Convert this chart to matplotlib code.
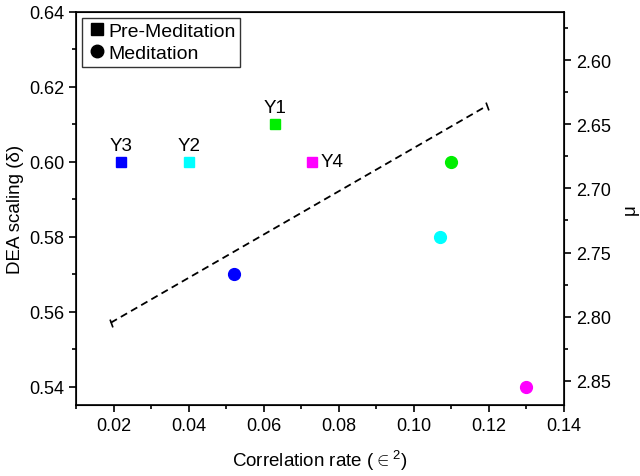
import matplotlib
matplotlib.use("Agg")
import matplotlib.pyplot as plt
from matplotlib.ticker import MultipleLocator, AutoMinorLocator
from matplotlib.lines import Line2D

plt.rcParams['font.family'] = ['Liberation Sans', 'DejaVu Sans']
plt.rcParams['mathtext.fontset'] = 'custom'
plt.rcParams['mathtext.rm'] = 'Liberation Sans'

# pre-meditation (squares)
pre_names = ["Y1", "Y2", "Y3", "Y4"]
pre_x = [0.063, 0.040, 0.022, 0.073]
pre_y = [0.610, 0.600, 0.600, 0.600]

# meditation (circles)
med_x = [0.110, 0.107, 0.052, 0.130]
med_y = [0.600, 0.580, 0.570, 0.540]

colors = ["#00ee00", "#00ffff", "#0000ff", "#ff00ff"]

# dashed trend line
fit_x = [0.0192, 0.1194]
fit_y = [0.5571, 0.6149]

fig = plt.figure(figsize=(6.4, 4.77), dpi=100)
ax = fig.add_axes([0.119, 0.149, 0.762, 0.824])

ax.plot(fit_x, fit_y, ls="--", color="black", lw=1.3, dashes=(4, 2.5))
ax.plot(fit_x[0], fit_y[0], marker=(2, 0, 20), color="black", ms=6, mew=1.2)
ax.plot(fit_x[1], fit_y[1], marker=(2, 0, 20), color="black", ms=6, mew=1.2)

for i in range(4):
    ax.plot(pre_x[i], pre_y[i], marker="s", ls="none", color=colors[i], ms=7.5)
    ax.plot(med_x[i], med_y[i], marker="o", ls="none", color=colors[i], ms=8.5)

for name, x, y in zip(pre_names, pre_x, pre_y):
    if name == "Y4":
        ax.annotate(name, (x, y), xytext=(6, 0), textcoords="offset points",
                    ha="left", va="center", fontsize=13.5)
    else:
        ax.annotate(name, (x, y), xytext=(0, 6), textcoords="offset points",
                    ha="center", va="bottom", fontsize=13.5)

ax.set_xlim(0.01, 0.14)
ax.set_ylim(0.5352, 0.64)
ax.xaxis.set_major_locator(MultipleLocator(0.02))
ax.xaxis.set_minor_locator(AutoMinorLocator(2))
ax.yaxis.set_major_locator(MultipleLocator(0.02))
ax.yaxis.set_minor_locator(AutoMinorLocator(2))
ax.xaxis.set_major_formatter(plt.FormatStrFormatter("%.2f"))
ax.yaxis.set_major_formatter(plt.FormatStrFormatter("%.2f"))
ax.tick_params(which="both", direction="out", labelsize=13, width=1.2)
ax.tick_params(which="major", length=5)
ax.tick_params(which="minor", length=3)
ax.tick_params(top=False, right=False)
for s in ax.spines.values():
    s.set_linewidth(1.2)

ax.set_xlabel(r"Correlation rate ($\in^2$)", fontsize=13.5, labelpad=10)
ax.set_ylabel("DEA scaling (\u03b4)", fontsize=13.5, labelpad=4)

ax2 = ax.twinx()
ax2.set_ylim(2.5625, 2.8687)
ax2.invert_yaxis()
ax2.yaxis.set_major_locator(MultipleLocator(0.05))
ax2.yaxis.set_minor_locator(AutoMinorLocator(2))
ax2.yaxis.set_major_formatter(plt.FormatStrFormatter("%.2f"))
ax2.tick_params(which="both", direction="out", labelsize=13, width=1.2)
ax2.tick_params(which="major", length=5)
ax2.tick_params(which="minor", length=3)
ax2.set_ylabel("\u03bc", fontsize=13.5, labelpad=8)

handles = [Line2D([], [], marker="s", ls="none", color="black", ms=8),
           Line2D([], [], marker="o", ls="none", color="black", ms=9)]
leg = ax.legend(handles, ["Pre-Meditation", "Meditation"], loc="upper left",
                fontsize=14, frameon=True, fancybox=False, edgecolor="black",
                handletextpad=0.1, handlelength=1.0, borderpad=0.25,
                labelspacing=0.2, borderaxespad=0.3)
leg.get_frame().set_linewidth(1.0)

fig.savefig("out.png", dpi=100)
